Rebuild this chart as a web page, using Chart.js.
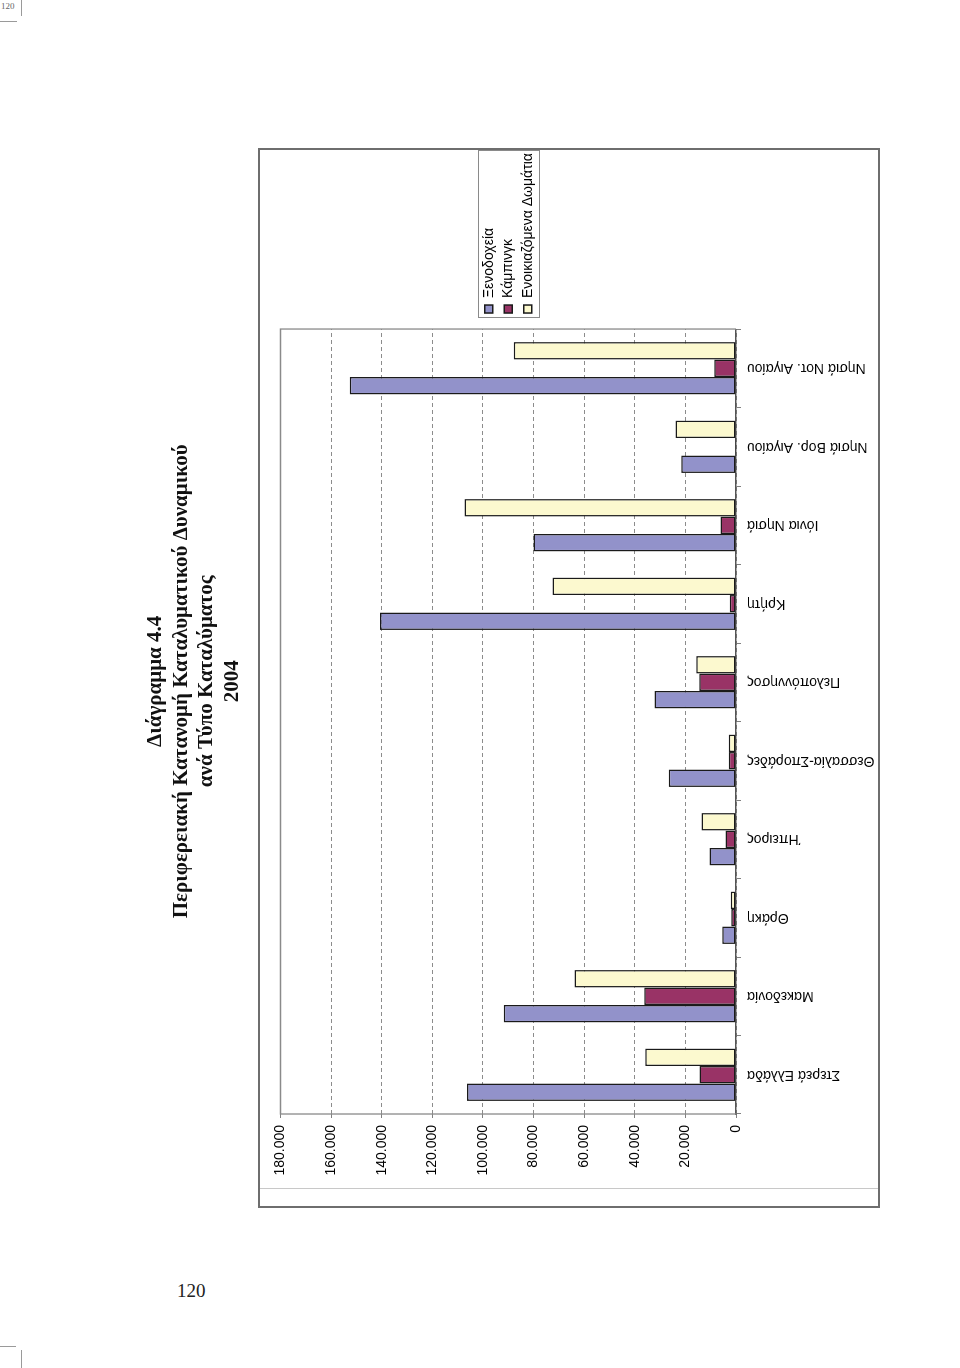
<!DOCTYPE html>
<html><head><meta charset="utf-8">
<script src="https://cdn.jsdelivr.net/npm/chart.js@4.4.1/dist/chart.umd.min.js"></script>
<style>
html,body{margin:0;padding:0;background:#fff;}
body{width:960px;height:1368px;position:relative;overflow:hidden;}
#wrap{position:absolute;left:140px;top:1209px;width:1062px;height:742px;transform-origin:0 0;transform:rotate(-90deg);}
canvas{display:block;}
.pn{position:absolute;font-family:'Liberation Serif','DejaVu Serif',serif;color:#222;line-height:1;}
.ln{position:absolute;background:#9a9a9a;}
</style></head><body>
<div class="pn" style="left:1px;top:2px;font-size:9px;color:#666">120</div>
<div class="ln" style="left:21px;top:0;width:1px;height:16px"></div>
<div class="ln" style="left:0;top:21px;width:17px;height:1px"></div>
<div class="pn" style="left:177px;top:1281px;font-size:19px">120</div>
<div class="ln" style="left:21px;top:1350px;width:1px;height:18px"></div>
<div class="ln" style="left:0;top:1346px;width:16px;height:1px"></div>
<div id="wrap"><canvas id="c" width="1062" height="742"></canvas></div>
<script>
const categories = ['Στερεά Ελλάδα','Μακεδονία','Θράκη','Ήπειρος','Θεσσαλία-Σποράδες','Πελοπόννησος','Κρήτη','Ιόνια Νησιά','Νησιά Βορ. Αιγαίου','Νησιά Νοτ. Αιγαίου'];
const hotels  = [106300, 91800, 5400, 10500, 26600, 32200, 140700, 80000, 21600, 152600];
const camping = [14400, 36300, 1900, 4100, 2900, 14500, 2500, 6100, 400, 8600];
const rooms   = [35900, 63800, 2100, 13600, 2900, 15700, 72500, 107300, 23900, 87800];
const seriesNames = ['Ξενοδοχεία','Κάμπινγκ','Ενοικιαζόμενα Δωμάτια'];
const valueMin = 0, valueMax = 180000, valueStep = 20000;
const titleLines = ['Διάγραμμα 4.4','Περιφερειακή Κατανομή Καταλυματικού Δυναμικού','ανά Τύπο Καταλύματος','2004'];

const SANS = "'Liberation Sans', Arial, sans-serif";
const FS = 14;
const fmt = v => String(v).replace(/\B(?=(\d{3})+(?!\d))/g, '.');

const framePlugin = {
  id: 'frame',
  afterLayout(chart) {
    const lg = chart.legend;
    lg.left += 10.5; lg.right += 10.5;
  },
  beforeDatasetsDraw(chart) {
    const {ctx, chartArea: a} = chart;
    ctx.save();
    ctx.strokeStyle = '#8a8a8a'; ctx.lineWidth = 1.3;
    ctx.beginPath();
    ctx.moveTo(a.left, a.bottom); ctx.lineTo(a.left, a.top); ctx.lineTo(a.right, a.top); ctx.lineTo(a.right, a.bottom);
    ctx.stroke();
    ctx.restore();
  },
  afterDraw(chart) {
    const ctx = chart.ctx;
    ctx.save();
    ctx.strokeStyle = '#6e6e6e'; ctx.lineWidth = 2;
    ctx.strokeRect(2, 119, 1058, 620);
    ctx.strokeStyle = '#c8c8c8'; ctx.lineWidth = 1;
    ctx.beginPath(); ctx.moveTo(20.5, 120); ctx.lineTo(20.5, 738); ctx.stroke();
    const lg = chart.legend, lo = lg.options.labels;
    const pad = lo.padding, bw = lo.boxWidth;
    ctx.font = FS + 'px ' + SANS;
    const tw = Math.max(...seriesNames.map(s => ctx.measureText(s).width));
    const cy = (lg.top + lg.bottom) / 2;
    const h = chart.data.datasets.length * (FS + pad);
    const x0 = lg.left + pad - 5, x1 = Math.min(lg.left + pad + bw + FS / 2 + tw + 2, 1059);
    ctx.strokeStyle = '#8a8a8a'; ctx.lineWidth = 1;
    ctx.strokeRect(Math.round(x0) + 0.5, Math.round(cy - h / 2 - 1) + 0.5, Math.round(x1 - x0), Math.round(h + 2));
    ctx.restore();
  }
};

const chart = new Chart(document.getElementById('c'), {
  type: 'bar',
  data: {
    labels: categories,
    datasets: [
      {label: seriesNames[0], data: hotels,  backgroundColor: '#9292ca'},
      {label: seriesNames[1], data: camping, backgroundColor: '#993366'},
      {label: seriesNames[2], data: rooms,   backgroundColor: '#fcf9cf'}
    ].map(d => Object.assign(d, {borderColor: '#1a1a1a', borderWidth: 1.5, borderSkipped: false, categoryPercentage: 0.667, barPercentage: 1.0}))
  },
  options: {
    responsive: false,
    animation: false,
    devicePixelRatio: 1,
    layout: {padding: {top: 0, left: 0, right: 6.6, bottom: 4}},
    plugins: {
      title: {
        display: true, text: titleLines, color: '#111',
        font: {family: "'Liberation Serif','Times New Roman',serif", size: 21, weight: 'bold', lineHeight: 1.22},
        padding: {top: 3, bottom: 35}
      },
      legend: {
        position: 'right', align: 'center', fullSize: false,
        labels: {boxWidth: 8, boxHeight: 8, padding: 5.5, color: '#000', font: {family: SANS, size: FS}}
      },
      tooltip: {enabled: false}
    },
    scales: {
      x: {
        type: 'category',
        afterFit: s => { s.height = 142; },
        grid: {display: true, drawOnChartArea: false, drawTicks: true, tickLength: 5, tickColor: '#808080', offset: true},
        border: {display: true, color: '#555', width: 1.5},
        ticks: {minRotation: 90, maxRotation: 90, autoSkip: false, padding: 6, color: '#000', font: {family: SANS, size: FS}}
      },
      y: {
        min: valueMin, max: valueMax,
        afterFit: s => { s.width = 95; },
        grid: {color: '#8c8c8c', lineWidth: 1, borderDash: [4, 3], tickLength: 4, tickColor: '#808080', tickBorderDash: []},
        border: {display: false, dash: [4, 3]},
        ticks: {stepSize: valueStep, padding: 7, color: '#000', font: {family: SANS, size: FS}, callback: v => fmt(v)}
      }
    }
  },
  plugins: [framePlugin]
});
</script>
</body></html>
